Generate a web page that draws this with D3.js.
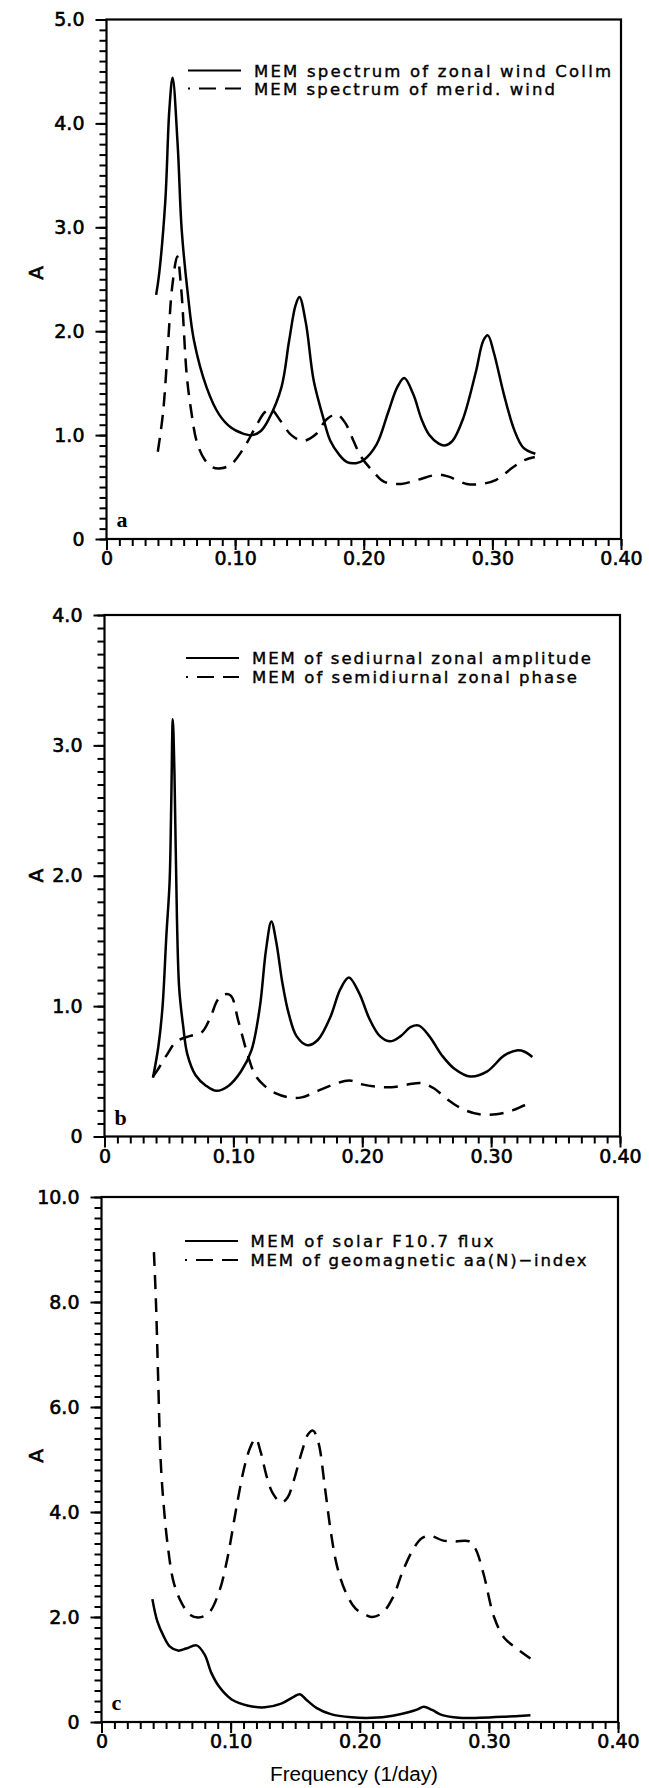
<!DOCTYPE html>
<html><head><meta charset="utf-8">
<script src="https://cdn.jsdelivr.net/npm/d3@7"></script>
<style>body{margin:0;background:#fff} svg{display:block}</style>
</head><body>
<script>
// ---------- data ----------
// Panel a: zonal wind (solid)
const fA1 = [0.0386,0.041,0.0457,0.0489,0.0514,0.0553,0.0585,0.0633,0.068,0.0778,0.0875,0.097,0.105,0.113,0.120,0.126,0.136,0.142,0.147,0.150,0.155,0.161,0.168,0.174,0.181,0.187,0.194,0.200,0.210,0.219,0.226,0.2315,0.2386,0.245,0.251,0.258,0.263,0.269,0.277,0.287,0.293,0.2965,0.301,0.309,0.317,0.324,0.3334];
const vA1 = [2.35,2.56,3.25,4.14,4.44,3.80,2.97,2.35,1.91,1.46,1.20,1.07,1.02,1.00,1.04,1.15,1.46,1.91,2.25,2.33,2.08,1.53,1.19,0.945,0.81,0.74,0.73,0.76,0.91,1.22,1.46,1.55,1.39,1.15,1.00,0.92,0.90,0.945,1.15,1.60,1.91,1.96,1.80,1.39,1.05,0.88,0.82];
// Panel a: meridional wind (dashed)
const fA2 = [0.0399,0.044,0.048,0.051,0.055,0.058,0.0625,0.066,0.070,0.076,0.0826,0.089,0.097,0.107,0.116,0.123,0.1277,0.1357,0.1437,0.153,0.163,0.171,0.179,0.1855,0.192,0.198,0.208,0.216,0.229,0.242,0.258,0.266,0.280,0.2916,0.303,0.316,0.325,0.333];
const vA2 = [0.84,1.22,1.91,2.42,2.72,2.42,1.56,1.22,0.945,0.77,0.69,0.68,0.72,0.88,1.08,1.22,1.25,1.13,1.00,0.945,1.01,1.15,1.20,1.12,0.945,0.79,0.64,0.55,0.53,0.57,0.62,0.60,0.53,0.53,0.57,0.69,0.76,0.79];
// Panel b: semidiurnal zonal amplitude (solid)
const fB1 = [0.0376,0.0418,0.045,0.048,0.0505,0.0517,0.053,0.0543,0.0562,0.058,0.061,0.0643,0.0707,0.0787,0.0868,0.0964,0.106,0.114,0.1205,0.1253,0.1295,0.1333,0.138,0.143,0.149,0.1575,0.1655,0.175,0.183,0.1896,0.1976,0.2057,0.2137,0.2217,0.2298,0.2378,0.244,0.252,0.262,0.2715,0.284,0.297,0.310,0.3197,0.326,0.332];
const vB1 = [0.45,0.69,0.99,1.54,1.95,2.50,3.20,2.78,1.68,1.13,0.85,0.63,0.47,0.39,0.35,0.39,0.50,0.66,0.99,1.43,1.65,1.49,1.18,0.94,0.77,0.70,0.74,0.91,1.13,1.22,1.10,0.90,0.77,0.73,0.77,0.84,0.85,0.77,0.62,0.52,0.46,0.50,0.62,0.66,0.65,0.61];
// Panel b: semidiurnal zonal phase (dashed)
const fB2 = [0.0376,0.0418,0.048,0.056,0.066,0.0755,0.082,0.088,0.093,0.098,0.104,0.111,0.117,0.124,0.133,0.143,0.153,0.1655,0.178,0.190,0.200,0.2137,0.225,0.236,0.246,0.2555,0.2667,0.278,0.291,0.304,0.3165,0.326,0.332];
const vB2 = [0.46,0.52,0.62,0.73,0.77,0.80,0.91,1.05,1.09,1.08,0.88,0.63,0.47,0.39,0.33,0.30,0.30,0.35,0.40,0.43,0.40,0.38,0.38,0.40,0.41,0.37,0.28,0.21,0.17,0.17,0.20,0.24,0.26];
// Panel c: solar F10.7 flux (solid)
const fC1 = [0.0394,0.0432,0.048,0.0528,0.0592,0.0656,0.0736,0.080,0.0848,0.0912,0.1008,0.1136,0.1264,0.1392,0.1488,0.1536,0.1584,0.1664,0.1776,0.1936,0.2096,0.2256,0.2384,0.2448,0.2496,0.256,0.264,0.2768,0.2928,0.312,0.3322];
const vC1 = [2.34,1.92,1.64,1.44,1.36,1.40,1.46,1.28,0.95,0.67,0.43,0.31,0.28,0.35,0.48,0.53,0.43,0.27,0.15,0.09,0.08,0.12,0.19,0.24,0.29,0.23,0.13,0.08,0.08,0.10,0.13];
// Panel c: geomagnetic aa(N)-index (dashed)
const fC2 = [0.0406,0.0422,0.0438,0.0458,0.048,0.0512,0.056,0.0624,0.0688,0.0752,0.0832,0.0912,0.0976,0.104,0.1104,0.1152,0.1194,0.1232,0.128,0.1328,0.1392,0.144,0.1488,0.1552,0.160,0.1638,0.168,0.1728,0.1776,0.1824,0.1888,0.1968,0.2048,0.2096,0.2176,0.2256,0.2336,0.2416,0.248,0.2544,0.264,0.2736,0.2848,0.2896,0.296,0.304,0.312,0.3216,0.3322];
const vC2 = [8.95,7.98,6.61,4.99,4.18,3.38,2.65,2.25,2.04,1.99,2.08,2.49,3.13,4.02,4.83,5.23,5.40,5.15,4.67,4.35,4.18,4.27,4.59,5.15,5.48,5.55,5.32,4.51,3.62,2.97,2.49,2.16,2.04,2.00,2.08,2.37,2.89,3.30,3.50,3.55,3.46,3.44,3.44,3.30,2.81,2.00,1.60,1.40,1.21];

const xTicks = [0, 0.1, 0.2, 0.3, 0.4];
const yTicksA = [0, 1, 2, 3, 4, 5];
const yTicksB = [0, 1, 2, 3, 4];
const yTicksC = [0, 2, 4, 6, 8, 10];
const legendA = ["MEM spectrum of zonal wind Collm", "MEM spectrum of merid. wind"];
const legendB = ["MEM of sediurnal zonal amplitude", "MEM of semidiurnal zonal phase"];
const legendC = ["MEM of solar F10.7 flux", "MEM of geomagnetic aa(N)\u2212index"];
const letters = ["a", "b", "c"];
const yLabel = "A";
const xLabel = "Frequency (1/day)";

// ---------- drawing ----------
const svg = d3.select("body").append("svg").attr("width", 649).attr("height", 1788);

const panels = [
  {left:106.5, right:621, top:19.5, bottom:539, ymax:5, minor:0.1, yTicks:yTicksA,
   s1:[fA1,vA1], s2:[fA2,vA2], legend:legendA, leg:{x1:188,x2:241,tx:254,y:70.5,dy:18,len:[357,301]}, letter:letters[0], aY:2.56},
  {left:104.5, right:620, top:615, bottom:1136.5, ymax:4, minor:0.1, yTicks:yTicksB,
   s1:[fB1,vB1], s2:[fB2,vB2], legend:legendB, leg:{x1:186,x2:239,tx:252,y:658,dy:19,len:[339,325]}, letter:letters[1], aY:2.0},
  {left:101.5, right:618, top:1197, bottom:1722, ymax:10, minor:0.2, yTicks:yTicksC,
   s1:[fC1,vC1], s2:[fC2,vC2], legend:legendC, leg:{x1:185,x2:238,tx:250.5,y:1241,dy:19,len:[243,336]}, letter:letters[2], aY:5.07}
];

const fmtY = v => v === 0 ? "0" : v.toFixed(1);
const fmtX = v => v === 0 ? "0" : v.toFixed(2);
const tickFont = "DejaVu Sans";

panels.forEach((p, i) => {
  const x = d3.scaleLinear().domain([0, 0.4]).range([p.left, p.right]);
  const y = d3.scaleLinear().domain([0, p.ymax]).range([p.bottom, p.top]);
  const g = svg.append("g");

  const minorY = d3.range(0, Math.round(p.ymax / p.minor) + 1).map(k => k * p.minor);
  const minorX = d3.range(0, 41).map(k => k * 0.01);

  const styleAxis = sel => {
    sel.attr("font-family", tickFont).attr("font-size", 19);
    sel.selectAll(".domain").remove();
    sel.selectAll(".tick line").attr("stroke", "#000").attr("stroke-width", 2);
    sel.selectAll(".tick text").attr("fill", "#000").attr("stroke", "#000").attr("stroke-width", 0.6);
  };

  g.append("g").attr("transform", `translate(${p.left},0)`)
    .call(d3.axisLeft(y).tickValues(minorY).tickSize(7).tickFormat("")).call(styleAxis);
  g.append("g").attr("transform", `translate(${p.left},0)`)
    .call(d3.axisLeft(y).tickValues(p.yTicks).tickSize(11).tickPadding(11).tickFormat(fmtY)).call(styleAxis);
  g.append("g").attr("transform", `translate(0,${p.bottom})`)
    .call(d3.axisBottom(x).tickValues(minorX).tickSize(7).tickFormat("")).call(styleAxis);
  g.append("g").attr("transform", `translate(0,${p.bottom})`)
    .call(d3.axisBottom(x).tickValues(xTicks).tickSize(11).tickPadding(2).tickFormat(fmtX)).call(styleAxis);

  g.append("rect").attr("x", p.left).attr("y", p.top)
    .attr("width", p.right - p.left).attr("height", p.bottom - p.top)
    .attr("fill", "none").attr("stroke", "#000").attr("stroke-width", 2.2);

  const line = d3.line().x(d => x(d[0])).y(d => y(d[1])).curve(d3.curveCatmullRom.alpha(0.5));
  g.append("path").datum(d3.zip(p.s1[0], p.s1[1])).attr("d", line)
    .attr("fill", "none").attr("stroke", "#000").attr("stroke-width", 2.5).attr("stroke-linejoin", "round");
  g.append("path").datum(d3.zip(p.s2[0], p.s2[1])).attr("d", line)
    .attr("fill", "none").attr("stroke", "#000").attr("stroke-width", 2.5).attr("stroke-dasharray", "14,9");

  // legend
  const L = p.leg;
  g.append("line").attr("x1", L.x1).attr("x2", L.x2).attr("y1", L.y).attr("y2", L.y)
    .attr("stroke", "#000").attr("stroke-width", 2.2);
  g.append("line").attr("x1", L.x1).attr("x2", L.x2).attr("y1", L.y + L.dy).attr("y2", L.y + L.dy)
    .attr("stroke", "#000").attr("stroke-width", 2.2).attr("stroke-dasharray", "2,9,17,9,16");
  p.legend.forEach((t, k) => {
    g.append("text").attr("x", L.tx).attr("y", L.y + k * L.dy + 6)
      .attr("font-family", tickFont).attr("font-size", 16.5)
      .attr("stroke", "#000").attr("stroke-width", 0.4)
      .attr("textLength", L.len[k]).attr("lengthAdjust", "spacing")
      .text(t);
  });

  // panel letter
  g.append("text").attr("x", p.left + 10).attr("y", p.bottom - 12)
    .attr("font-family", "Liberation Serif").attr("font-weight", "bold").attr("font-size", 22)
    .text(p.letter);

  // y label
  g.append("text").attr("transform", `translate(36,${y(p.aY)}) rotate(-90)`)
    .attr("text-anchor", "middle").attr("dominant-baseline", "central")
    .attr("font-family", tickFont).attr("font-size", 20)
    .attr("stroke", "#000").attr("stroke-width", 0.6).text(yLabel);

  if (i === 2) {
    g.append("text").attr("x", 354).attr("y", 1781).attr("text-anchor", "middle")
      .attr("font-family", "Liberation Sans").attr("font-size", 20)
      .attr("textLength", 168).attr("lengthAdjust", "spacingAndGlyphs").text(xLabel);
  }
});
</script>
</body></html>
